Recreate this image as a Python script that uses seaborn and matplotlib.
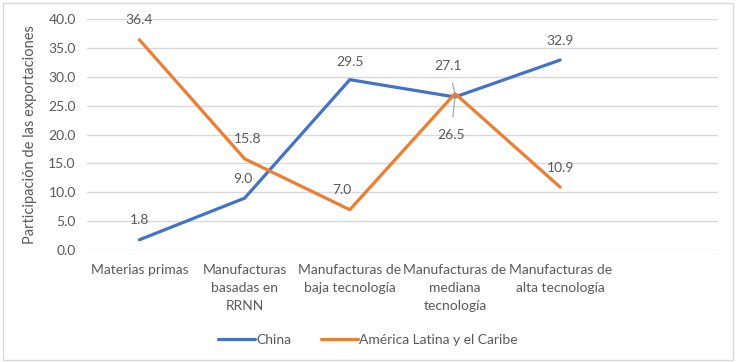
import matplotlib
matplotlib.use("Agg")
import matplotlib.pyplot as plt
import seaborn as sns
import pandas as pd
from matplotlib.lines import Line2D
from matplotlib.patches import Rectangle

categories = ["Materias primas", "Manufacturas\nbasadas en\nRRNN", "Manufacturas de\nbaja tecnología",
              "Manufacturas de\nmediana\ntecnología", "Manufacturas de\nalta tecnología"]
china = [1.8, 9.0, 29.5, 26.5, 32.9]
lac = [36.4, 15.8, 7.0, 27.1, 10.9]
series_names = ["China", "América Latina y el Caribe"]
colors = ["#4472C4", "#ED7D31"]
yticks = [0, 5, 10, 15, 20, 25, 30, 35, 40]

df = pd.DataFrame({
    "cat": categories * 2,
    "val": china + lac,
    "serie": [series_names[0]] * 5 + [series_names[1]] * 5,
})

sns.set_theme(style="white")
plt.rcParams["font.family"] = ["Lato", "DejaVu Sans"]
txt = "#595959"

fig = plt.figure(figsize=(7.36, 3.62), dpi=100)
ax = fig.add_axes([0.118, 0.309, 0.8575, 0.6385])

sns.lineplot(data=df, x="cat", y="val", hue="serie", palette=colors, lw=2.3,
             ax=ax, legend=False, sort=False)

ax.set_xlim(-0.5, 5.5)
ax.set_ylim(0, 40)
ax.set_yticks(yticks)
ax.set_yticklabels([f"{v:.1f}" for v in yticks], color=txt, fontsize=10)
ax.set_xticks(range(len(categories)))
ax.set_xticklabels(categories, color=txt, fontsize=10, linespacing=1.6)
ax.tick_params(axis="both", length=0, pad=8)
ax.tick_params(axis="x", pad=10)
ax.yaxis.grid(True, color="#D9D9D9", lw=1)
ax.set_axisbelow(True)
for s in ax.spines.values():
    s.set_visible(False)
ax.set_xlabel("")
ax.set_ylabel("Participación de las exportaciones", color=txt, fontsize=10.5, labelpad=8)

# data labels (offset in points)
offs_china = [(0, 14), (-1, 14), (0, 13), (-3, -27), (0, 14)]
offs_lac = [(0, 14), (2, 14), (-6, 14), (-5, 20), (0, 14)]
for i, (v, o) in enumerate(zip(china, offs_china)):
    if i == 3:
        ax.annotate(f"{v:.1f}", (i, v), xytext=o, textcoords="offset points",
                    ha="center", va="center", color=txt, fontsize=10,
                    arrowprops=dict(arrowstyle="-", color="#A6A6A6", lw=0.9, shrinkA=6, shrinkB=0))
    else:
        ax.annotate(f"{v:.1f}", (i, v), xytext=o, textcoords="offset points",
                    ha="center", va="center", color=txt, fontsize=10)
for i, (v, o) in enumerate(zip(lac, offs_lac)):
    if i == 3:
        ax.annotate(f"{v:.1f}", (i, v), xytext=o, textcoords="offset points",
                    ha="center", va="center", color=txt, fontsize=10,
                    arrowprops=dict(arrowstyle="-", color="#A6A6A6", lw=0.9, shrinkA=6, shrinkB=0))
    else:
        ax.annotate(f"{v:.1f}", (i, v), xytext=o, textcoords="offset points",
                    ha="center", va="center", color=txt, fontsize=10)

handles = [Line2D([0], [0], color=c, lw=2.3) for c in colors]
leg = fig.legend(handles, series_names, loc="center", bbox_to_anchor=(0.5, 0.062), ncol=2,
                 frameon=False, fontsize=10, handlelength=2.6, handletextpad=0.1, columnspacing=2.2)
for t in leg.get_texts():
    t.set_color(txt)

fig.patches.append(Rectangle((0.004, 0.006), 0.992, 0.986, transform=fig.transFigure,
                             fill=False, edgecolor="#D9D9D9", lw=1))

fig.savefig("out.png", dpi=100)
